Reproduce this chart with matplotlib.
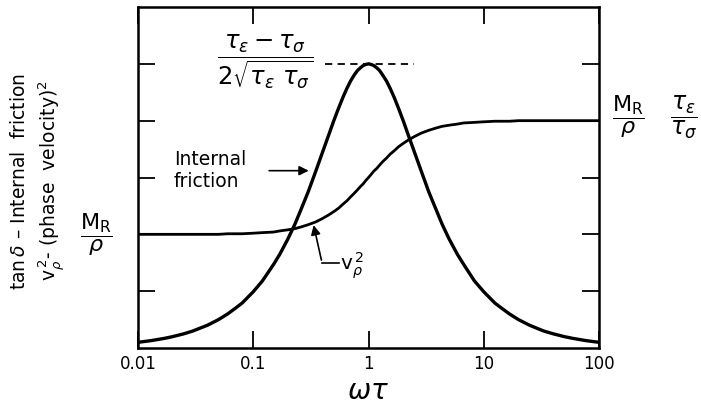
import matplotlib
matplotlib.use("Agg")
import matplotlib.pyplot as plt

# values (y in tick units, 0..6)
wt = [0.01, 0.013, 0.017, 0.02, 0.025, 0.03, 0.04, 0.05, 0.06, 0.07, 0.08, 0.1,
      0.12, 0.15, 0.17, 0.2, 0.23, 0.26, 0.3, 0.35, 0.4, 0.45, 0.5, 0.55, 0.6,
      0.65, 0.7, 0.75, 0.8, 0.85, 0.9, 0.95, 1.0, 1.05, 1.11, 1.18, 1.25, 1.33,
      1.43, 1.54, 1.67, 1.82, 2.0, 2.22, 2.5, 2.86, 3.33, 3.85, 4.35, 5.0, 5.9,
      6.7, 8.3, 10.0, 12.5, 14.3, 16.7, 20.0, 25.0, 33.0, 40.0, 50.0, 59.0,
      77.0, 100.0]
friction = [0.10, 0.13, 0.17, 0.20, 0.25, 0.30, 0.40, 0.50, 0.60, 0.70, 0.79, 0.99,
            1.18, 1.47, 1.65, 1.92, 2.18, 2.44, 2.75, 3.12, 3.45, 3.74, 4.00, 4.22,
            4.41, 4.57, 4.70, 4.80, 4.88, 4.93, 4.97, 4.99, 5.00, 4.99, 4.97, 4.93,
            4.88, 4.80, 4.70, 4.57, 4.41, 4.22, 4.00, 3.74, 3.45, 3.12, 2.75, 2.44,
            2.18, 1.92, 1.65, 1.47, 1.18, 0.99, 0.79, 0.70, 0.60, 0.50, 0.40, 0.30,
            0.25, 0.20, 0.17, 0.13, 0.10]
vp2 = [2.00, 2.00, 2.00, 2.00, 2.00, 2.00, 2.00, 2.00, 2.01, 2.01, 2.01, 2.02,
       2.03, 2.04, 2.06, 2.08, 2.10, 2.13, 2.17, 2.22, 2.28, 2.34, 2.40, 2.46,
       2.53, 2.59, 2.66, 2.72, 2.78, 2.84, 2.89, 2.95, 3.00, 3.05, 3.11, 3.16,
       3.22, 3.28, 3.34, 3.41, 3.47, 3.54, 3.60, 3.66, 3.72, 3.78, 3.83, 3.87,
       3.90, 3.92, 3.94, 3.96, 3.97, 3.98, 3.99, 3.99, 3.99, 4.00, 4.00, 4.00,
       4.00, 4.00, 4.00, 4.00, 4.00]
xticks = [0.01, 0.1, 1, 10, 100]
xticklabels = ["0.01", "0.1", "1", "10", "100"]
yticks = [1, 2, 3, 4, 5]
peak_span = [0.42, 2.5]

W, H = 701, 404
fig = plt.figure(figsize=(W / 100, H / 100), dpi=100)
ax = fig.add_axes([138 / W, 1 - 348 / H, 461 / W, 341 / H])

ax.plot(wt, friction, color="black", lw=2.4, solid_joinstyle="round")
ax.plot(wt, vp2, color="black", lw=2.0, solid_joinstyle="round")
ax.plot(peak_span, [5, 5], color="black", lw=1.3, ls=(0, (4, 3)))

ax.set_xscale("log")
ax.set_xlim(0.01, 100)
ax.set_ylim(0, 6)
ax.set_xticks(xticks)
ax.set_xticklabels(xticklabels)
ax.minorticks_off()
ax.set_yticks(yticks)
ax.set_yticklabels([])
ax.tick_params(direction="in", length=12, width=1.3, top=True, right=True,
               labelsize=12, pad=5)
for s in ax.spines.values():
    s.set_linewidth(1.8)

ax.text(0.5, -0.085, r"$\omega\tau$", transform=ax.transAxes, ha="center",
        va="top", fontsize=20)

def px(x, y):
    return x / W, 1 - y / H

fig.text(*px(20, 181), r"tan$\,\delta$ – Internal  friction", rotation=90,
         ha="center", va="center", fontsize=13.5)
fig.text(*px(52, 181), r"v$_\rho^{\,2}$- (phase  velocity)$^2$", rotation=90,
         ha="center", va="center", fontsize=13.5)

frac = dict(ha="center", va="center", fontsize=16)
fig.text(*px(96, 235), r"$\dfrac{\mathrm{M_R}}{\rho}$", **frac)
fig.text(*px(628, 117), r"$\dfrac{\mathrm{M_R}}{\rho}$", **frac)
fig.text(*px(684, 117), r"$\dfrac{\tau_\epsilon}{\tau_\sigma}$", fontsize=17,
         ha="center", va="center")
fig.text(*px(265, 62), r"$\dfrac{\tau_\epsilon - \tau_\sigma}{2\sqrt{\tau_\epsilon\ \tau_\sigma}}$",
         ha="center", va="center", fontsize=17.5)

# labels with arrows
ax.text(0.0205, 3.32, "Internal", fontsize=13.5, va="center")
ax.text(0.0205, 2.93, "friction", fontsize=13.5, va="center")
ax.annotate("", xy=(0.32, 3.12), xytext=(0.13, 3.12),
            arrowprops=dict(arrowstyle="-|>", color="black", lw=1.2,
                            mutation_scale=14))
ax.annotate("", xy=(0.33, 2.21), xytext=(0.395, 1.5),
            arrowprops=dict(arrowstyle="-|>", color="black", lw=1.2,
                            mutation_scale=14))
ax.plot([0.395, 0.55], [1.5, 1.5], color="black", lw=1.2)
ax.text(0.57, 1.45, r"v$_\rho^{\,2}$", fontsize=14.5, va="center")

fig.savefig("out.png", dpi=100)
